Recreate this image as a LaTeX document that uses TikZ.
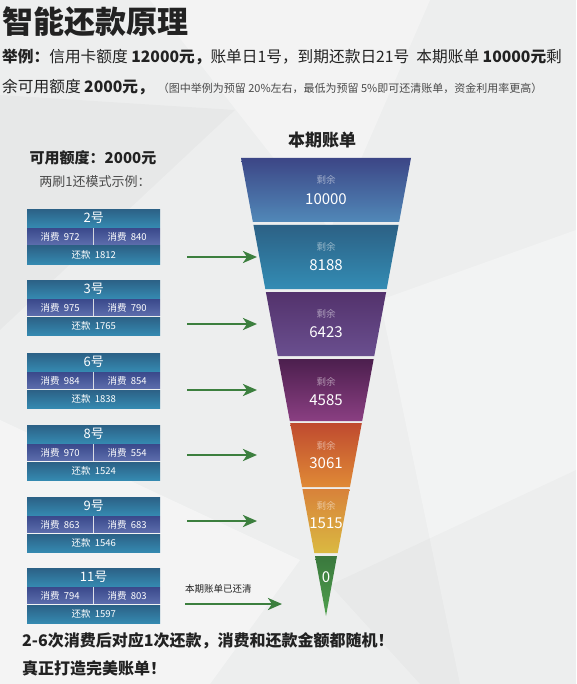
\documentclass[tikz,border=0pt]{standalone}
\usepackage{fontspec}
\setmainfont{Noto Sans CJK SC}
\usetikzlibrary{arrows.meta}

\definecolor{bggray}{HTML}{EDEEEE}
\definecolor{textdark}{HTML}{222222}
\definecolor{textgray}{HTML}{4A4A4A}
\definecolor{hdtop}{HTML}{2C6186}
\definecolor{hdbot}{HTML}{3589B0}
\definecolor{cltop}{HTML}{3B4A8C}
\definecolor{clbot}{HTML}{5C6DAC}
\definecolor{arrowgreen}{HTML}{3C7F3E}
\definecolor{fat}{HTML}{3C4686}
\definecolor{fab}{HTML}{5188B8}
\definecolor{fbt}{HTML}{2C6185}
\definecolor{fbb}{HTML}{338CB4}
\definecolor{fct}{HTML}{53326C}
\definecolor{fcb}{HTML}{6A4F8F}
\definecolor{fdt}{HTML}{4C1F4E}
\definecolor{fdb}{HTML}{8A3F82}
\definecolor{fet}{HTML}{BF4A2F}
\definecolor{feb}{HTML}{E08A36}
\definecolor{fft}{HTML}{D8823A}
\definecolor{ffb}{HTML}{DAB941}
\definecolor{fgt}{HTML}{3A783D}
\definecolor{fgb}{HTML}{4FA04D}

\begin{document}
\begin{tikzpicture}[x=1pt,y=-1pt,>=Stealth,
  txt/.style={inner sep=0pt,text=textdark},
  hdbox/.style={inner sep=0pt,text=white,minimum width=133pt,minimum height=18pt,
    top color=hdtop,bottom color=hdbot},
  cellbox/.style={inner sep=0pt,text=white,minimum width=66pt,minimum height=16pt,
    top color=cltop,bottom color=clbot,font=\fontsize{9.5}{10}\selectfont},
  resttxt/.style={inner sep=0pt,text=white,opacity=0.5,font=\fontsize{9.5}{10}\selectfont},
  numtxt/.style={inner sep=0pt,text=white,font=\fontsize{15}{15}\selectfont},
  garrow/.style={->,arrowgreen,line width=2.6pt,
    arrows={-Stealth[length=14pt,width=12pt,inset=4pt]}}]

  % background
  \fill[bggray] (0,0) rectangle (576,684);
  \useasboundingbox (0,0) rectangle (576,684);
  \fill[white,opacity=0.35] (150,0) -- (430,0) -- (330,230) -- cycle;
  \fill[white,opacity=0.3] (380,300) -- (576,230) -- (576,684) -- (460,684) -- cycle;
  \fill[black,opacity=0.025] (0,95) -- (235,110) -- (0,330) -- cycle;
  \fill[white,opacity=0.4] (0,420) -- (300,560) -- (210,684) -- (0,684) -- cycle;
  \fill[black,opacity=0.02] (330,585) -- (576,470) -- (576,684) -- (420,684) -- cycle;

  % title and example
  \node[txt,anchor=west,font=\fontsize{31}{31}\selectfont\bfseries] (title) at (2,22) {智能还款原理};
  \node[txt,anchor=west,font=\fontsize{15.7}{16}\selectfont] (ex1) at (2,57)
    {\textbf{举例：}信用卡额度 \textbf{12000元，}账单日1号，到期还款日21号\ \ 本期账单 \textbf{10000元}剩};
  \node[txt,anchor=west,font=\fontsize{15.7}{16}\selectfont] (ex2) at (2,87)
    {余可用额度 \textbf{2000元，}\hspace{4pt}{\fontsize{11}{11}\selectfont\color{textgray}（图中举例为预留 20\%左右，最低为预留 5\%即可还清账单，资金利用率更高）}};

  % left column
  \node[txt,font=\fontsize{15}{15}\selectfont\bfseries] (avail) at (93,158) {可用额度：2000元};
  \node[txt,text=textgray,font=\fontsize{13}{13}\selectfont] (mode) at (95,182) {两刷1还模式示例：};

  \foreach \by/\bd/\sa/\sb/\rp in {209/2/972/840/1812, 280/3/975/790/1765, 353/6/984/854/1838,
      425/8/970/554/1524, 497/9/863/683/1546, 568/11/794/803/1597} {
    \node[hdbox,anchor=north west,font=\fontsize{13}{13}\selectfont] (h\bd) at (27,\by) {\bd 号};
    \node[cellbox,anchor=north west] (a\bd) at ([yshift=-1pt]h\bd.south west) {消费\ \ \sa};
    \node[cellbox,anchor=north east] (b\bd) at ([yshift=-1pt]h\bd.south east) {消费\ \ \sb};
    \node[hdbox,anchor=north west,font=\fontsize{9.5}{10}\selectfont] (r\bd) at ([yshift=-1pt]a\bd.south west) {还款\ \ \rp};
  }

  % funnel
  \node[txt,font=\fontsize{17}{17}\selectfont\bfseries] (bill) at (322,140) {本期账单};
  \foreach \tp/\bt/\ctop/\cbot/\ly/\ny/\val/\k in {158/222/fat/fab/180/199/10000/1,
      225/289/fbt/fbb/247/265/8188/2, 292/356/fct/fcb/314/332/6423/3,
      359/421/fdt/fdb/382/400/4585/4, 423/487/fet/feb/446/463/3061/5,
      489/553/fft/ffb/506/523/1515/6} {
    \shade[top color=\ctop,bottom color=\cbot]
      ({326-0.18559*(616-\tp)},\tp) -- ({326+0.18559*(616-\tp)},\tp) --
      ({326+0.18559*(616-\bt)},\bt) -- ({326-0.18559*(616-\bt)},\bt) -- cycle;
    \node[resttxt] (l\k) at (326,\ly) {剩余};
    \node[numtxt] (s\k) at (326,\ny) {\val};
  }
  \shade[top color=fgt,bottom color=fgb] (315,556) -- (337,556) -- (326,616) -- cycle;
  \node[numtxt] (s7) at (326,577) {0};

  % arrows
  \foreach \ay/\k in {257/2, 324/3, 390/4, 455/5, 521/6} {
    \coordinate (p\k) at (187,\ay);
    \coordinate (q\k) at (257,\ay);
    \draw[garrow] (p\k) -- (q\k);
  }
  \coordinate (p7) at (185,604);
  \coordinate (q7) at (282,604);
  \draw[garrow] (p7) -- (q7);
  \node[txt,anchor=west,text=textdark,font=\fontsize{9.5}{10}\selectfont] (paid) at (185,589) {本期账单已还清};

  % bottom note
  \node[txt,anchor=west,font=\fontsize{16}{16}\selectfont\bfseries] (note1) at (22,641) {2-6次消费后对应1次还款，消费和还款金额都随机！};
  \node[txt,anchor=west,font=\fontsize{16}{16}\selectfont\bfseries] (note2) at (22,668) {真正打造完美账单！};

\end{tikzpicture}
\end{document}
